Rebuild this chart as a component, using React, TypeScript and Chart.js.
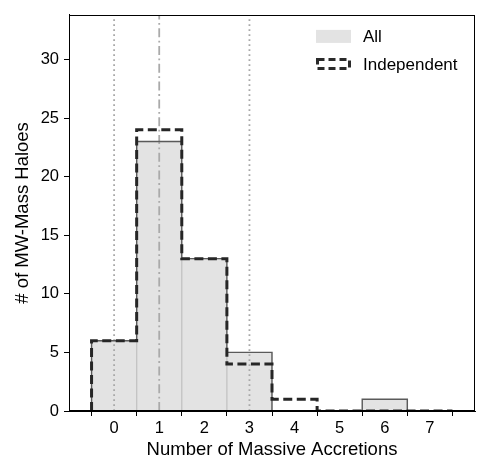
import React, { useEffect, useRef } from "react";
import { Chart, registerables } from "chart.js";

Chart.register(...registerables);

// ---- data ----
const binCenters = [0, 1, 2, 3, 4, 5, 6, 7];
const binEdges = [-0.5, 0.5, 1.5, 2.5, 3.5, 4.5, 5.5, 6.5, 7.5];
const allCounts = [6, 23, 13, 5, 0, 0, 1, 0];
const independentCounts = [6, 24, 13, 4, 1, 0, 0, 0];
const xTickValues = [0, 1, 2, 3, 4, 5, 6, 7];
const yTickValues = [0, 5, 10, 15, 20, 25, 30];
const dottedLineXs = [0, 3];
const dashDotLineXs = [1];
const X_MIN = -1;
const X_MAX = 8;
const Y_MAX = 33.8;
const legendLabels = ["All", "Independent"];
const xTitle = "Number of Massive Accretions";
const yTitle = "# of MW-Mass Haloes";

const FONT = "'Liberation Sans', Arial, Helvetica, sans-serif";

function stepPoints(counts: number[]) {
  const pts: { x: number; y: number }[] = [{ x: binEdges[0], y: 0 }];
  counts.forEach((c, i) => pts.push({ x: binEdges[i], y: c }));
  pts.push({ x: binEdges[binEdges.length - 1], y: 0 });
  return pts;
}

const framePlugin = {
  id: "frameAndLegend",
  afterDraw(chart: any) {
    const { ctx, chartArea } = chart;
    ctx.save();
    ctx.strokeStyle = "#000";
    ctx.lineWidth = 1;
    ctx.strokeRect(
      Math.round(chartArea.left) + 0.5,
      Math.round(chartArea.top) + 0.5,
      Math.round(chartArea.right - chartArea.left) - 1,
      Math.round(chartArea.bottom - chartArea.top) - 1
    );
    // legend
    const px = chartArea.right - 159;
    const tx = chartArea.right - 112;
    const y1 = chartArea.top + 15;
    const y2 = chartArea.top + 43;
    ctx.fillStyle = "#e3e3e3";
    ctx.fillRect(px, y1, 35, 13);
    ctx.setLineDash([7, 4]);
    ctx.strokeStyle = "#2a2a2a";
    ctx.lineWidth = 3;
    ctx.strokeRect(px + 1.5, y2 + 1.5, 32, 9);
    ctx.setLineDash([]);
    ctx.fillStyle = "#000";
    ctx.font = `17px ${FONT}`;
    ctx.textBaseline = "middle";
    ctx.textAlign = "left";
    ctx.fillText(legendLabels[0], tx, y1 + 7);
    ctx.fillText(legendLabels[1], tx, y2 + 7);
    ctx.restore();
  },
};

export default function App() {
  const ref = useRef<HTMLCanvasElement>(null);
  useEffect(() => {
    document.body.style.margin = "0";
    const canvas = ref.current!;
    const vlines: any[] = [];
    dottedLineXs.forEach((x) =>
      vlines.push({
        type: "line",
        data: [
          { x, y: 0 },
          { x, y: Y_MAX },
        ],
        borderColor: "#a8a8a8",
        borderWidth: 1.8,
        borderDash: [1.8, 3.2],
        pointRadius: 0,
        fill: false,
        order: 4,
      })
    );
    dashDotLineXs.forEach((x) =>
      vlines.push({
        type: "line",
        data: [
          { x, y: 0 },
          { x, y: Y_MAX },
        ],
        borderColor: "#aaaaaa",
        borderWidth: 1.8,
        borderDash: [9, 3.5, 1.8, 3.5],
        pointRadius: 0,
        fill: false,
        order: 4,
      })
    );
    const chart = new Chart(canvas, {
      type: "line",
      data: {
        datasets: [
          {
            type: "bar",
            data: binCenters.map((x, i) => ({ x, y: allCounts[i] })),
            backgroundColor: "#e3e3e3",
            borderColor: "#c4c4c4",
            borderWidth: 1,
            barPercentage: 1,
            categoryPercentage: 1,
            order: 5,
          } as any,
          ...vlines,
          {
            type: "line",
            data: stepPoints(allCounts),
            stepped: "before",
            borderColor: "#5a5a5a",
            borderWidth: 1.4,
            pointRadius: 0,
            fill: false,
            order: 3,
          },
          {
            type: "line",
            data: stepPoints(independentCounts),
            stepped: "before",
            borderColor: "#262626",
            borderWidth: 3,
            borderDash: [9, 4.5],
            pointRadius: 0,
            fill: false,
            order: 2,
          },
        ],
      },
      options: {
        animation: false,
        responsive: false,
        maintainAspectRatio: false,
        layout: { padding: { top: 4, right: 2, left: 0, bottom: 0 } },
        plugins: {
          legend: { display: false },
          tooltip: { enabled: false },
        },
        scales: {
          x: {
            type: "linear",
            min: X_MIN,
            max: X_MAX,
            offset: false,
            afterBuildTicks: (s: any) => {
              s.ticks = xTickValues.map((v) => ({ value: v }));
            },
            afterFit: (s: any) => {
              s.height = 55;
            },
            ticks: {
              color: "#000",
              font: { family: FONT, size: 16.5 },
              padding: 3,
              maxRotation: 0,
              autoSkip: false,
            },
            grid: {
              display: true,
              drawOnChartArea: false,
              drawTicks: true,
              tickLength: 5,
              color: "#000",
              tickColor: "#000",
            },
            border: { display: true, color: "#000", width: 1 },
            title: {
              display: true,
              text: xTitle,
              color: "#000",
              font: { family: FONT, size: 18.5 },
              padding: { top: 0, bottom: 5 },
            },
          },
          y: {
            type: "linear",
            min: 0,
            max: Y_MAX,
            afterBuildTicks: (s: any) => {
              s.ticks = yTickValues.map((v) => ({ value: v }));
            },
            afterFit: (s: any) => {
              s.width = 69;
            },
            ticks: {
              color: "#000",
              font: { family: FONT, size: 16.5 },
              padding: 5,
            },
            grid: {
              display: true,
              drawOnChartArea: false,
              drawTicks: true,
              tickLength: 5,
              color: "#000",
              tickColor: "#000",
            },
            border: { display: true, color: "#000", width: 1 },
            title: {
              display: true,
              text: yTitle,
              color: "#000",
              font: { family: FONT, size: 18.5 },
              padding: { top: 12, bottom: 0 },
            },
          },
        },
      },
      plugins: [framePlugin],
    } as any);
    return () => chart.destroy();
  }, []);
  return (
    <div style={{ width: 477, height: 466 }}>
      <canvas ref={ref} width={477} height={466} style={{ display: "block" }} />
    </div>
  );
}
